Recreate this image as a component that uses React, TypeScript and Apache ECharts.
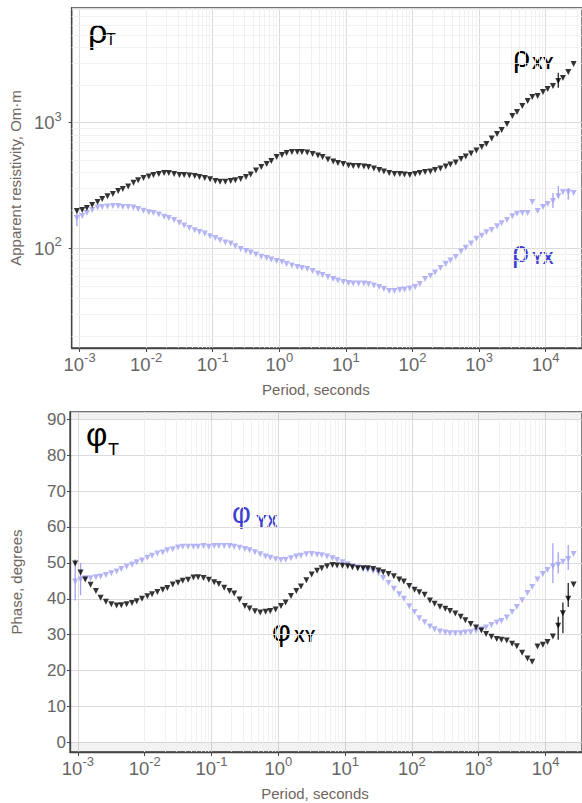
import React, { useEffect, useRef } from "react";
import * as echarts from "echarts";

// log10 of period (seconds) for every sounding point
const logPeriods = [
  -3.04, -2.96, -2.89, -2.81, -2.73, -2.66, -2.58, -2.5, -2.42, -2.35,
  -2.27, -2.19, -2.12, -2.04, -1.96, -1.89, -1.81, -1.73, -1.66, -1.58,
  -1.5, -1.43, -1.35, -1.27, -1.2, -1.12, -1.04, -0.96, -0.89, -0.81,
  -0.73, -0.66, -0.58, -0.5, -0.43, -0.35, -0.27, -0.19, -0.12, -0.04,
  0.04, 0.11, 0.19, 0.27, 0.34, 0.42, 0.5, 0.58, 0.65, 0.73,
  0.81, 0.88, 0.96, 1.04, 1.11, 1.19, 1.27, 1.34, 1.42, 1.5,
  1.57, 1.65, 1.73, 1.81, 1.88, 1.96, 2.04, 2.11, 2.19, 2.27,
  2.34, 2.42, 2.5, 2.57, 2.65, 2.73, 2.8, 2.88, 2.96, 3.04,
  3.11, 3.19, 3.27, 3.34, 3.42, 3.5, 3.57, 3.65, 3.73, 3.8,
  3.88, 3.96, 4.03, 4.11, 4.19, 4.26, 4.34, 4.42,
];

// apparent resistivity, Ohm·m
const rhoXY = [
  198, 202, 209, 221, 234, 247, 260, 270, 286, 297,
  311, 332, 348, 363, 373, 384, 391, 398, 398, 391,
  384, 384, 380, 377, 370, 363, 354, 344, 338, 338,
  344, 348, 357, 370, 387, 416, 444, 469, 496, 533,
  553, 574, 585, 585, 585, 580, 564, 548, 533, 510,
  491, 478, 469, 456, 452, 452, 448, 444, 432, 420,
  409, 398, 391, 391, 387, 384, 391, 398, 405, 409,
  420, 432, 448, 465, 483, 514, 538, 569, 602, 641,
  677, 750, 813, 875, 976, 1130, 1217, 1358, 1490, 1602,
  1630, 1755, 1855, 1960, 2150, 2270, 2535, 2930,
];
const rhoYX = [
  174, 181, 191, 202, 211, 213, 215, 217, 217, 213,
  213, 211, 206, 199, 194, 191, 186, 178, 174, 168,
  160, 152, 145, 139, 135, 131, 125, 121, 116, 111,
  109, 104, 98.6, 95.2, 92.7, 89.1, 85.8, 83.8, 81.5, 79.3,
  77.8, 75, 72.9, 71, 69.7, 68.5, 66, 63, 61.3, 59,
  56.9, 55.3, 53.9, 52.9, 52.5, 52.5, 52.5, 52, 50.6, 49.2,
  47.4, 45.7, 45.7, 46.6, 47, 47.9, 49.2, 52, 56.9, 60.1,
  64.2, 69.7, 75, 80, 85.3, 94.3, 101, 109, 119, 126,
  134, 140, 150, 158, 168, 180, 188, 191, 191, 234,
  198, 213, 225, 238, 260, 280, 280, 275,
];

// impedance phase, degrees
const phiXY = [
  49.8, 47.3, 45.4, 43.9, 42.2, 40.3, 39.2, 38.5, 38.1, 38.2,
  38.5, 38.8, 39.3, 40, 40.7, 41.3, 41.9, 42.5, 43, 44,
  44.5, 45, 45.3, 45.9, 46, 45.8, 45.3, 44.6, 44.1, 43.1,
  42.2, 41.5, 39.8, 38, 37.3, 36.5, 36.2, 36.4, 36.6, 37,
  38, 39, 40.8, 42.2, 43.4, 45.2, 46.8, 47.8, 48.5, 49.1,
  49.4, 49.3, 49.2, 49.1, 48.8, 48.5, 48.5, 48.5, 48.3, 47.9,
  47.4, 46.9, 46.3, 45.4, 44.8, 43.6, 42.5, 41.8, 41.1, 39.5,
  38.6, 37.8, 37.2, 36.6, 35.9, 35, 34, 33, 32, 31.2,
  30.2, 29.4, 28.8, 28.6, 28.4, 27.5, 26.8, 25, 23.4, 22.5,
  26.7, 27.2, 28, 29.5, 32.5, 36, 40, 44,
];
const phiYX = [
  44.8, 45.4, 45.7, 45.7, 46, 46.2, 46.6, 47.1, 47.6, 48.3,
  48.9, 49.5, 50.2, 50.7, 51.4, 52, 52.6, 52.9, 53.5, 53.8,
  54.3, 54.5, 54.5, 54.5, 54.5, 54.7, 54.5, 54.7, 54.7, 54.7,
  54.7, 54.5, 54.2, 53.9, 53.5, 53, 52.4, 51.8, 51.4, 51,
  50.8, 50.9, 51.3, 51.8, 52, 52.4, 52.5, 52.3, 52.1, 51.8,
  51.3, 50.8, 50.2, 49.6, 49.1, 48.7, 48.3, 48, 47.7, 47.1,
  45.8, 44.4, 42.8, 41.3, 40, 37.9, 36.3, 34.6, 33.5, 32.3,
  31.5, 30.9, 30.6, 30.4, 30.4, 30.4, 30.6, 30.7, 31, 31.5,
  32, 32.7, 33.4, 33.8, 34.8, 36.3, 37.7, 39.6, 41.6, 43.3,
  45.4, 46.9, 48, 49, 49.4, 50.3, 51.1, 52.5,
];

// error bars: [log10 period, low, high]
const rhoXYErr = [[4.19, 1900, 2500]];
const rhoYXErr = [[-3.04, 150, 200], [4.11, 209, 275], [4.19, 252, 313], [4.34, 243, 302]];
const phiXYErr = [[4.19, 28.6, 35], [4.26, 30.4, 39], [4.34, 37.7, 44.4]];
const phiYXErr = [[-3.04, 39.5, 51], [-2.96, 41, 50], [4.11, 44.4, 55.5], [4.19, 47, 53], [4.34, 48, 55]];

// log-axis minor grid: 2..9 × 10^n
const minorSteps = [2, 3, 4, 5, 6, 7, 8, 9];
const xDecades = [-4, -3, -2, -1, 0, 1, 2, 3, 4];
const yDecades = [1, 2, 3];

const FONT = "'Liberation Sans', Arial, sans-serif";
const BLACK = "#000000";
const PURPLE = "#a3a3f2";
const BLUE_TXT = "#3f3fcf";
const LABEL = "#666666";
const TITLE = "#6f6660";
const AXIS = "#444444";

const X_MIN = Math.pow(10, -3.118);
const X_MAX = Math.pow(10, 4.546);

export default function App() {
  const ref = useRef<HTMLDivElement>(null);

  useEffect(() => {
    if (!ref.current) return;
    const chart = echarts.init(ref.current, undefined, { renderer: "svg" });

    const pts = (vals: number[]) => logPeriods.map((L, i) => [Math.pow(10, L), vals[i]]);
    const errs = (e: number[][]) => e.map((r) => [Math.pow(10, r[0]), r[1], r[2]]);

    const minorX: number[] = [];
    xDecades.forEach((d) => minorSteps.forEach((m) => minorX.push(m * Math.pow(10, d))));
    const minorY: number[] = [];
    yDecades.forEach((d) => minorSteps.forEach((m) => minorY.push(m * Math.pow(10, d))));

    const supFormatter = (v: number) => {
      const e = Math.round(Math.log10(v));
      return `{b|10}{s|${e}}`;
    };
    const supRich = {
      b: { fontSize: 18.5, lineHeight: 26, color: LABEL, fontFamily: FONT },
      s: { fontSize: 13, lineHeight: 13, verticalAlign: "top", color: LABEL, fontFamily: FONT },
    };

    const xAxisBase = (gridIndex: number) => ({
      gridIndex,
      type: "log",
      logBase: 10,
      min: X_MIN,
      max: X_MAX,
      name: "Period, seconds",
      nameLocation: "middle",
      nameGap: 34,
      nameTextStyle: { color: TITLE, fontSize: 15, fontFamily: FONT, padding: [0, 22, 0, 0] },
      axisLine: { show: true, onZero: false, lineStyle: { color: AXIS, width: 1.3 } },
      axisTick: { show: true, length: 4, lineStyle: { color: AXIS } },
      axisLabel: {
        formatter: supFormatter,
        rich: supRich,
        margin: 3,
        showMinLabel: false,
        showMaxLabel: false,
      },
      splitLine: { show: true, lineStyle: { color: "#dadada", width: 1 } },
    });

    const errSeries = (data: number[][], color: string, xi: number) => ({
      type: "custom",
      xAxisIndex: xi,
      yAxisIndex: xi,
      z: 9,
      data,
      encode: { x: 0, y: [1, 2] },
      renderItem: (_p: any, api: any) => {
        const x = api.value(0);
        const a = api.coord([x, api.value(1)]);
        const b = api.coord([x, api.value(2)]);
        return {
          type: "line",
          shape: { x1: a[0], y1: a[1], x2: b[0], y2: b[1] },
          style: { stroke: color, lineWidth: 1.3 },
        };
      },
    });

    const scatter = (data: number[][], color: string, xi: number) => ({
      type: "scatter",
      xAxisIndex: xi,
      yAxisIndex: xi,
      z: 10,
      symbol: "triangle",
      symbolRotate: 180,
      symbolSize: 6,
      itemStyle: { color },
      data,
    });

    const minorLineStyle = { color: "#eeeeee", width: 0.8, type: "solid" };

    const txt = (x: number, y: number, text: string, size: number, color: string, weight = "normal") => ({
      type: "text",
      x,
      y,
      silent: true,
      style: {
        text,
        fill: color,
        fontSize: size,
        fontFamily: FONT,
        fontWeight: weight,
        align: "left",
        verticalAlign: "middle",
      },
    });

    chart.setOption({
      animation: false,
      backgroundColor: "#ffffff",
      grid: [
        { left: 70, right: -3, top: 8, height: 340, show: true, borderColor: AXIS, borderWidth: 1.3 },
        { left: 70, right: -3, top: 412, height: 340, show: true, borderColor: AXIS, borderWidth: 1.3 },
      ],
      xAxis: [xAxisBase(0), xAxisBase(1)],
      yAxis: [
        {
          gridIndex: 0,
          type: "log",
          logBase: 10,
          min: 16.08,
          max: 8187,
          name: "Apparent resistivity, Om·m",
          nameLocation: "middle",
          nameGap: 46,
          nameTextStyle: { color: TITLE, fontSize: 15, fontFamily: FONT },
          axisLine: { show: true, onZero: false, lineStyle: { color: AXIS, width: 1.3 } },
          axisTick: { show: true, length: 3, lineStyle: { color: AXIS } },
          axisLabel: {
            formatter: supFormatter,
            rich: supRich,
            margin: 10,
            showMinLabel: false,
            showMaxLabel: false,
          },
          splitLine: { show: true, lineStyle: { color: "#dadada", width: 1 } },
        },
        {
          gridIndex: 1,
          type: "value",
          min: -2.67,
          max: 92.03,
          minInterval: 10,
          maxInterval: 10,
          name: "Phase, degrees",
          nameLocation: "middle",
          nameGap: 46,
          nameTextStyle: { color: TITLE, fontSize: 15, fontFamily: FONT },
          axisLine: { show: true, onZero: false, lineStyle: { color: AXIS, width: 1.3 } },
          axisTick: { show: true, length: 3, lineStyle: { color: AXIS } },
          axisLabel: {
            color: LABEL,
            fontSize: 17,
            fontFamily: FONT,
            margin: 4,
            showMinLabel: false,
            showMaxLabel: false,
          },
          splitLine: { show: true, lineStyle: { color: "#dadada", width: 1 } },
        },
      ],
      series: [
        {
          type: "line",
          xAxisIndex: 0,
          yAxisIndex: 0,
          data: [],
          markLine: {
            silent: true,
            z: 1,
            symbol: ["none", "none"],
            label: { show: false },
            lineStyle: minorLineStyle,
            data: [...minorX.map((v) => ({ xAxis: v })), ...minorY.map((v) => ({ yAxis: v }))],
          },
        },
        {
          type: "line",
          xAxisIndex: 1,
          yAxisIndex: 1,
          data: [],
          markLine: {
            silent: true,
            z: 1,
            symbol: ["none", "none"],
            label: { show: false },
            lineStyle: minorLineStyle,
            data: minorX.map((v) => ({ xAxis: v })),
          },
          markArea: {
            silent: true,
            itemStyle: { color: "rgba(0,0,0,0.05)" },
            data: [
              [{ yAxis: 90 }, { yAxis: 92.03 }],
              [{ yAxis: -2.67 }, { yAxis: 0 }],
            ],
          },
        },
        errSeries(errs(rhoYXErr), PURPLE, 0),
        errSeries(errs(rhoXYErr), "#222222", 0),
        scatter(pts(rhoYX), PURPLE, 0),
        scatter(pts(rhoXY), BLACK, 0),
        errSeries(errs(phiYXErr), PURPLE, 1),
        errSeries(errs(phiXYErr), "#222222", 1),
        scatter(pts(phiYX), PURPLE, 1),
        scatter(pts(phiXY), BLACK, 1),
      ],
      graphic: [
        txt(88, 31, "ρ", 34, BLACK),
        txt(106, 39, "T", 16, BLACK),
        txt(513, 56, "ρ", 30, BLACK),
        txt(532, 63, "XY", 16, BLACK, "bold"),
        txt(512, 251, "ρ", 30, BLUE_TXT),
        txt(532, 258, "YX", 16, BLUE_TXT, "bold"),
        txt(86, 434, "φ", 33, BLACK),
        txt(108, 450, "T", 18, BLACK),
        txt(232, 513, "φ", 29, BLUE_TXT),
        txt(256, 521, "YX", 16, BLUE_TXT, "bold"),
        txt(272, 631, "φ", 29, BLACK),
        txt(294, 636, "XY", 16, BLACK, "bold"),
      ],
    });

    return () => chart.dispose();
  }, []);

  return (
    <div
      ref={ref}
      style={{ position: "absolute", left: 0, top: 0, width: 582, height: 803, background: "#fff" }}
    />
  );
}
